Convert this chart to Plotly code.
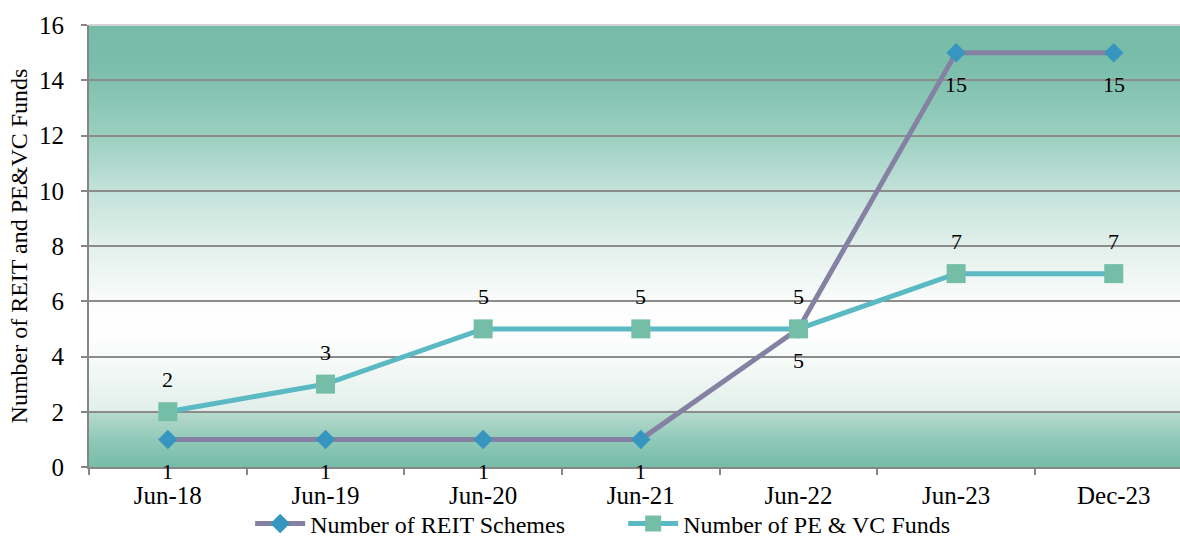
import base64
import struct
import zlib

import plotly.graph_objects as go

categories = ["Jun-18", "Jun-19", "Jun-20", "Jun-21", "Jun-22", "Jun-23", "Dec-23"]
reit_schemes = [1, 1, 1, 1, 5, 15, 15]
pe_vc_funds = [2, 3, 5, 5, 5, 7, 7]
y_ticks = [0, 2, 4, 6, 8, 10, 12, 14, 16]

FONT = "Liberation Serif"

# background gradient stops (value, rgb)
stops = [
    (16, (117, 188, 168)), (14.5, (122, 190, 171)), (12, (155, 207, 191)),
    (10, (195, 226, 217)), (8, (226, 240, 236)), (6, (250, 252, 251)),
    (5, (255, 255, 255)), (4, (248, 251, 250)), (2.05, (225, 239, 234)),
    (1.95, (182, 218, 206)), (1, (145, 201, 184)), (0, (117, 188, 168)),
]


def grad(v):
    for (v1, c1), (v2, c2) in zip(stops[:-1], stops[1:]):
        if v2 <= v <= v1:
            t = (v1 - v) / (v1 - v2) if v1 != v2 else 0
            return tuple(round(a + (b - a) * t) for a, b in zip(c1, c2))
    return stops[-1][1]


def gradient_png(rows):
    raw = b"".join(b"\x00" + bytes(grad(16 - 16 * (i + 0.5) / rows)) for i in range(rows))

    def chunk(tag, data):
        return struct.pack(">I", len(data)) + tag + data + struct.pack(">I", zlib.crc32(tag + data) & 0xFFFFFFFF)

    png = b"\x89PNG\r\n\x1a\n"
    png += chunk(b"IHDR", struct.pack(">IIBBBBB", 1, rows, 8, 2, 0, 0, 0))
    png += chunk(b"IDAT", zlib.compress(raw))
    png += chunk(b"IEND", b"")
    return "data:image/png;base64," + base64.b64encode(png).decode()


fig = go.Figure()
fig.add_trace(go.Scatter(
    x=categories, y=reit_schemes, mode="lines+markers",
    name="Number of REIT Schemes",
    line=dict(color="#8581A2", width=5),
    marker=dict(symbol="diamond", size=15, color="#3796BF"),
))
fig.add_trace(go.Scatter(
    x=categories, y=pe_vc_funds, mode="lines+markers",
    name="Number of PE & VC Funds",
    line=dict(color="#5BB9C4", width=5),
    marker=dict(symbol="square", size=19, color="#74BDA6"),
))

annotations = []
for c, v in zip(categories, reit_schemes):
    annotations.append(dict(x=c, y=v, text=str(v), showarrow=False, yshift=-32,
                            font=dict(family=FONT, size=22, color="black")))
for c, v in zip(categories, pe_vc_funds):
    annotations.append(dict(x=c, y=v, text=str(v), showarrow=False, yshift=32,
                            font=dict(family=FONT, size=22, color="black")))

fig.update_layout(
    width=1180, height=539,
    margin=dict(l=89, r=0, t=25, b=72, autoexpand=False),
    paper_bgcolor="white",
    plot_bgcolor="rgba(0,0,0,0)",
    font=dict(family=FONT, size=24, color="black"),
    images=[dict(source=gradient_png(442), xref="paper", yref="paper",
                 x=0, y=1, sizex=1, sizey=1, xanchor="left", yanchor="top",
                 sizing="stretch", layer="below")],
    shapes=[dict(type="line", xref="paper", yref="paper", x0=0, x1=1, y0=1, y1=1,
                 line=dict(color="#D4D4D4", width=2), layer="above")],
    annotations=annotations,
    showlegend=True,
    legend=dict(orientation="h", xref="container", yref="container",
                x=0.212, xanchor="left", y=0.028, yanchor="middle",
                font=dict(family=FONT, size=24, color="black"),
                itemwidth=50, entrywidthmode="pixels", entrywidth=308,
                bgcolor="rgba(0,0,0,0)", tracegroupgap=0),
    xaxis=dict(
        range=[-0.5, 6.42], showgrid=False, showline=True, linecolor="#868686",
        linewidth=2, ticks="outside", tickson="boundaries", ticklen=6,
        tickcolor="#868686", tickwidth=2, ticklabelstandoff=5, automargin=False,
        tickfont=dict(family=FONT, size=25, color="black"), zeroline=False,
    ),
    yaxis=dict(
        range=[0, 16], tickvals=y_ticks, showgrid=True, gridcolor="#8C8C8C",
        gridwidth=1.5, showline=True, linecolor="#868686", linewidth=2,
        ticks="outside", ticklen=6, tickcolor="#868686", tickwidth=2,
        ticklabelstandoff=12, zeroline=False, automargin=False,
        tickfont=dict(family=FONT, size=25, color="black"),
        title=dict(text="Number of REIT and PE&VC Funds", standoff=5,
                   font=dict(family=FONT, size=24, color="black")),
    ),
)

fig.write_html("out.html")
